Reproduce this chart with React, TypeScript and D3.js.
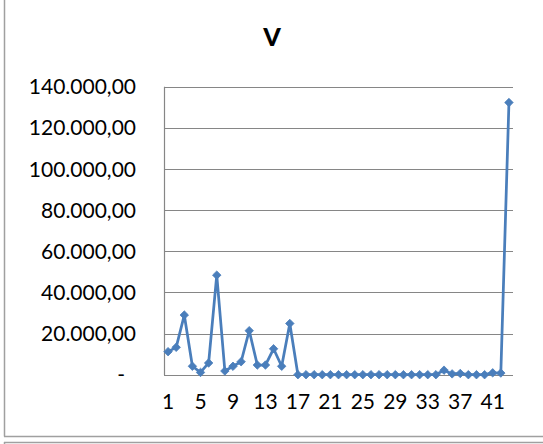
import React from "react";
import * as d3 from "d3";

const categories: number[] = Array.from({ length: 43 }, (_, i) => i + 1);
const values: number[] = [
  11200, 13300, 29000, 4100, 1100, 5700, 48400, 1800, 4100, 6300,
  21400, 4700, 4700, 12600, 4100, 24900, 0, 0, 0, 0,
  0, 0, 0, 0, 0, 0, 0, 0, 0, 0,
  0, 0, 0, 0, 2200, 400, 600, 0, 0, 0,
  900, 800, 132300,
];
const yTicks: number[] = [0, 20000, 40000, 60000, 80000, 100000, 120000, 140000];
const xTickLabels: number[] = [1, 5, 9, 13, 17, 21, 25, 29, 33, 37, 41];
const title = "V";

const W = 543;
const H = 444;
const FONT = "Lato, 'Open Sans', sans-serif";
const BLUE = "#4A7EBB";
const GRID = "#868686";

function fmt(v: number): string {
  if (v === 0) return "-";
  const s = d3.format(",.2f")(v);
  return s.replace(/,/g, "#").replace(".", ",").replace(/#/g, ".");
}

export default function App() {
  const x = d3.scaleBand<number>().domain(categories).range([164, 513]);
  const y = d3.scaleLinear().domain([0, 140000]).range([374.7, 86.7]);
  const cx = (c: number) => (x(c) as number) + x.bandwidth() / 2;
  const line = d3
    .line<number>()
    .x((_, i) => cx(categories[i]))
    .y((d) => y(d));
  const marker = d3.symbol().type(d3.symbolSquare).size(36)() as string;

  return (
    <svg
      width={W}
      height={H}
      style={{ position: "absolute", left: 0, top: 0, background: "#fff" }}
      fontFamily={FONT}
    >
      <rect x={0} y={0} width={W} height={H} fill="#fff" />
      {/* frame */}
      <line x1={4.5} y1={0} x2={4.5} y2={436.5} stroke="#a0a0a0" strokeWidth={1.5} />
      <line x1={4} y1={436.5} x2={W} y2={436.5} stroke="#a0a0a0" strokeWidth={1.5} />
      <line x1={4} y1={442.5} x2={W} y2={442.5} stroke="#a0a0a0" strokeWidth={1.5} />
      <line x1={4.5} y1={442} x2={4.5} y2={H} stroke="#a0a0a0" strokeWidth={1.5} />

      <text x={272} y={46} textAnchor="middle" fontSize={25} fontWeight={900} fill="#000">
        {title}
      </text>

      {yTicks.map((t) => (
        <g key={t}>
          <line x1={164} x2={513} y1={Math.round(y(t)) + 0.5} y2={Math.round(y(t)) + 0.5} stroke={GRID} strokeWidth={1.2} />
          <text
            x={t === 0 ? 125 : 136}
            y={y(t)}
            dy="0.36em"
            textAnchor="end"
            fontSize={21}
            fill="#000"
          >
            {fmt(t)}
          </text>
        </g>
      ))}
      <line x1={164.5} x2={164.5} y1={86.7} y2={375} stroke={GRID} strokeWidth={1.2} />

      {xTickLabels.map((c) => (
        <text key={c} x={cx(c)} y={401} dy="0.36em" textAnchor="middle" fontSize={21} fill="#000">
          {c}
        </text>
      ))}

      <path d={line(values) as string} fill="none" stroke={BLUE} strokeWidth={2.75} strokeLinejoin="round" />
      {values.map((v, i) => (
        <path key={i} d={marker} transform={`translate(${cx(categories[i])},${y(v)}) rotate(45)`} fill={BLUE} stroke={BLUE} strokeWidth={0.75} />
      ))}
    </svg>
  );
}
